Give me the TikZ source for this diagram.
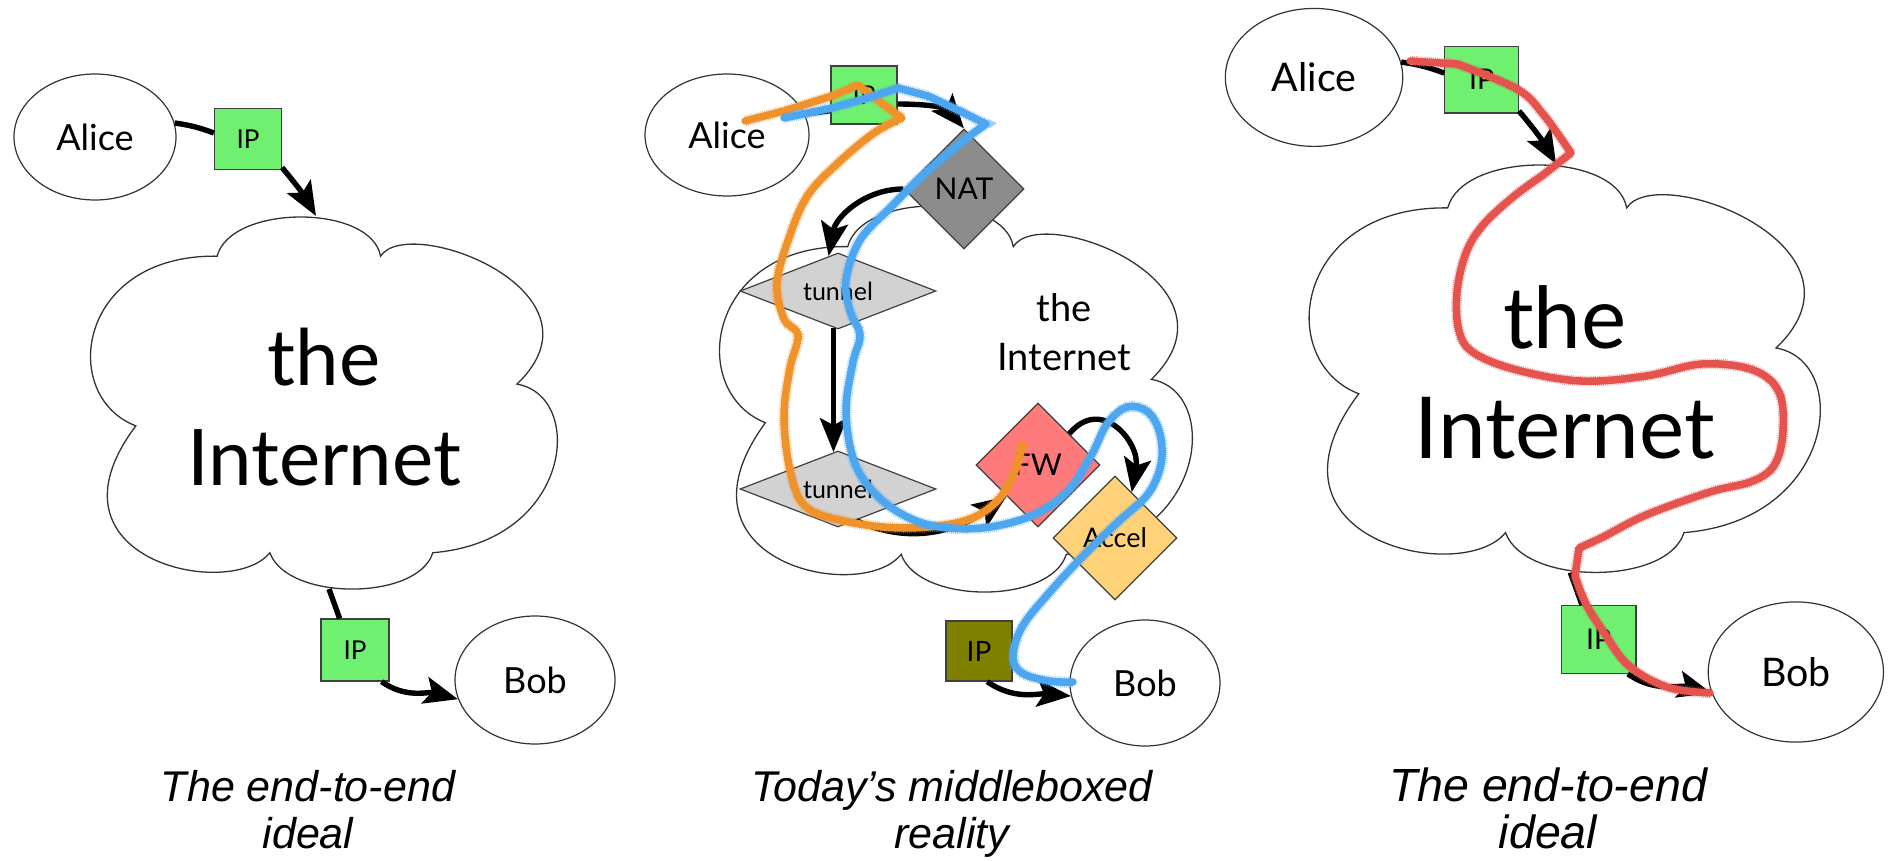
\documentclass[tikz,border=0pt]{standalone}
\usepackage{fontspec}
\setmainfont{Lato}
\newfontfamily\capfont{Liberation Sans}
\usetikzlibrary{shapes.geometric,arrows.meta}
\definecolor{ipgreen}{HTML}{70F070}
\definecolor{ipolive}{HTML}{808000}
\definecolor{natgray}{HTML}{8C8C8C}
\definecolor{tungray}{HTML}{D2D2D2}
\definecolor{fwred}{HTML}{FF7A7A}
\definecolor{accelorange}{HTML}{FFD27A}
\definecolor{crayonorange}{HTML}{F0922B}
\definecolor{crayonblue}{HTML}{4DA6F0}
\definecolor{crayonred}{HTML}{E5534F}
\newcommand\cloudpath{%
  \draw[cloudline] (0.27,0.105)
    .. controls (0.30,-0.035) and (0.60,-0.035) .. (0.62,0.105)
    .. controls (0.68,-0.01) and (1.12,0.20) .. (0.912,0.448)
    .. controls (1.06,0.48) and (1.03,0.87) .. (0.732,0.90)
    .. controls (0.70,1.03) and (0.42,1.03) .. (0.383,0.90)
    .. controls (0.30,1.03) and (-0.12,0.92) .. (0.096,0.56)
    .. controls (-0.07,0.48) and (-0.03,0.10) .. (0.27,0.105) -- cycle;}
\newcommand\etepanel[1]{%
  \begin{scope}[shift={(91,217)}, xscale=467, yscale=373]\cloudpath\end{scope}
  \node[host, minimum width=162pt, minimum height=126pt] (alice#1) at (95,137) {Alice};
  \node[ipbox, minimum width=67pt, minimum height=61pt] (ipa#1) at (248,139) {IP};
  \node[bigtext, anchor=base] (the#1) at (324,385) {the};
  \node[bigtext, anchor=base] (inet#1) at (324,485) {Internet};
  \node[ipbox, minimum width=68pt, minimum height=62pt] (ipb#1) at (355,650) {IP};
  \node[host, minimum width=160pt, minimum height=128pt] (bob#1) at (535,680) {Bob};
  \coordinate (ctop#1) at (316,216);
  \coordinate (cbot#1) at (329,589);
  \draw[plainline] (alice#1.10) to[bend left=6] (ipa#1.170);
  \draw[conn] (ipa#1.-40) to[bend left=5] (ctop#1);
  \draw[plainline] (cbot#1) -- (ipb#1.116);
  \draw[conn] (ipb#1.-50) to[out=-35,in=165] (bob#1.194);
}
\begin{document}
\begin{tikzpicture}[x=1pt,y=-1pt,
  host/.style={ellipse, draw=black!80, line width=1.2pt, fill=white, inner sep=0pt, font=\fontsize{36}{40}\selectfont},
  ipbox/.style={rectangle, draw=black!75, line width=1.2pt, fill=ipgreen, inner sep=0pt, font=\fontsize{26}{28}\selectfont},
  mbox/.style={diamond, draw=black!75, line width=1.2pt, inner sep=0pt},
  cloudline/.style={draw=black!80, line width=1.3pt, fill=white},
  conn/.style={line width=5.4pt, -{Stealth[length=34pt,width=27pt,inset=7pt]}},
  plainline/.style={line width=5.4pt},
  bigtext/.style={inner sep=0pt, font=\fontsize{78}{80}\selectfont},
  midtext/.style={inner sep=0pt, font=\fontsize{38}{40}\selectfont},
  captext/.style={inner sep=0pt, font=\capfont\itshape\fontsize{43}{45}\selectfont},
  crayon/.style={line width=7.5pt, line cap=round, line join=round}]
\useasboundingbox[fill=white] (0,0) rectangle (1890,861);

% ---------- panel 1 ----------
\etepanel{1}
\node[captext, anchor=base] (capa1) at (308,801) {The end-to-end};
\node[captext, anchor=base] (capb1) at (308,848) {ideal};

% ---------- panel 3 ----------
\begin{scope}[shift={(1210,-72.6)}, scale=1.095, transform shape]
\etepanel{3}
\end{scope}
\node[captext, anchor=base, font=\capfont\itshape\fontsize{46.5}{48}\selectfont] (capa3) at (1548,801) {The end-to-end};
\node[captext, anchor=base, font=\capfont\itshape\fontsize{46.5}{48}\selectfont] (capb3) at (1548,848) {ideal};

% ---------- panel 2 ----------
\begin{scope}[shift={(720,206)}, xscale=473, yscale=387]\cloudpath\end{scope}
\node[host, minimum width=164pt, minimum height=122pt] (alice2) at (727,135) {Alice};
\node[ipbox, minimum width=66pt, minimum height=58pt] (ipa2) at (864,95) {IP};
\node[mbox, fill=natgray, minimum width=120pt, minimum height=120pt, font=\fontsize{30}{32}\selectfont] (nat) at (964,189) {NAT};
\node[mbox, fill=tungray, aspect=2.6, minimum width=196pt, minimum height=76pt, font=\fontsize{25}{27}\selectfont] (tun1) at (838,291) {tunnel};
\node[mbox, fill=tungray, aspect=2.6, minimum width=196pt, minimum height=76pt, font=\fontsize{25}{27}\selectfont] (tun2) at (838,489) {tunnel};
\node[mbox, fill=fwred, minimum width=124pt, minimum height=124pt, font=\fontsize{30}{32}\selectfont] (fw) at (1038,465) {FW};
\node[mbox, fill=accelorange, minimum width=124pt, minimum height=124pt, font=\fontsize{27}{29}\selectfont] (accel) at (1115,538) {Accel};
\node[ipbox, fill=ipolive, minimum width=66pt, minimum height=60pt, font=\fontsize{28}{30}\selectfont] (ipb2) at (979,651) {IP};
\node[host, minimum width=150pt, minimum height=126pt] (bob2) at (1145,683) {Bob};
\node[midtext, anchor=base] (the2) at (1064,321) {the};
\node[midtext, anchor=base] (inet2) at (1064,370) {Internet};
\node[captext, anchor=base] (capa2) at (952,801) {Today’s middleboxed};
\node[captext, anchor=base] (capb2) at (952,848) {reality};

\draw[plainline] (alice2.15) -- (ipa2.205);
\draw[conn] (ipa2.-15) to[out=0,in=130] (nat.north);
\draw[conn] (nat.west) to[out=180,in=80] (tun1.105);
\draw[conn] (tun1.-97) -- (tun2.97);
\draw[conn] (tun2.-60) to[out=-25,in=215] (fw.south west);
\draw[conn] (fw.north east) to[out=50,in=80,looseness=1.5] (accel.70);
\draw[conn] (ipb2.-75) to[out=-35,in=175] (bob2.190);

% ---------- crayon paths ----------
\draw[crayon, crayonorange, preaction={draw=crayonorange, line width=11pt, dash pattern=on 0.8pt off 1.1pt, opacity=0.55}]
  (745,121) -- (784,111) -- (832,96) -- (858,85) -- (880,102)
  -- plot[smooth, tension=0.6] coordinates {(902,118) (874,133) (838,163) (808,195) (790,235) (777,283) (784,319) (798,335) (790,368) (784,416) (790,470) (805,506) (844,521) (904,528) (964,521) (998,500) (1016,468) (1022,444)};
\draw[crayon, crayonblue, preaction={draw=crayonblue, line width=11pt, dash pattern=on 0.8pt off 1.1pt, opacity=0.55}]
  (784,118) -- (832,108) -- (868,98) -- (898,88) -- (928,96) -- (962,112)
  -- plot[smooth, tension=0.6] coordinates {(986,124) (958,145) (922,176) (892,206) (860,240) (846,280) (850,311) (860,335) (853,362) (846,410) (853,458) (870,488) (898,512) (934,526) (982,528) (1031,516) (1067,492) (1091,456) (1107,424) (1127,407) (1148,412) (1160,434) (1161,464) (1148,494) (1119,521) (1085,554) (1049,593) (1022,627) (1013,657) (1022,673) (1049,681) (1073,682)};
\draw[crayon, crayonred, preaction={draw=crayonred, line width=10.5pt, dash pattern=on 0.8pt off 1.1pt, opacity=0.55}]
  (1410,61)
  -- plot[smooth, tension=0.6] coordinates {(1457,64) (1517,89) (1543,114) (1571,153)}
  -- plot[smooth, tension=0.6] coordinates {(1543,175) (1513,197) (1483,225) (1466,253) (1457,292) (1459,331) (1474,353) (1517,370) (1581,381) (1646,376) (1702,364) (1753,370) (1779,392) (1783,431) (1775,464) (1753,481) (1710,492) (1646,515) (1603,537) (1579,548)}
  -- plot[smooth, tension=0.6] coordinates {(1575,576) (1586,604) (1603,631) (1628,665) (1667,687) (1710,693)};
\end{tikzpicture}
\end{document}
